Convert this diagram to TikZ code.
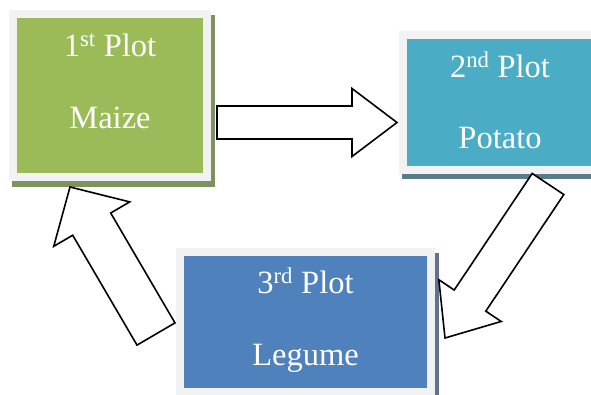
\documentclass[tikz,border=0pt]{standalone}
\usepackage{fontspec}
\setmainfont{Liberation Serif}
\usetikzlibrary{calc,positioning}

\definecolor{maizegreen}{RGB}{155,187,89}
\definecolor{potatoteal}{RGB}{75,172,198}
\definecolor{legumeblue}{RGB}{79,129,189}
\definecolor{framegray}{RGB}{242,242,242}
\definecolor{greenshade}{RGB}{126,146,96}
\definecolor{tealshade}{RGB}{90,124,136}
\definecolor{blueshade}{RGB}{98,114,142}

\tikzset{
  plotbox/.style={draw=framegray, line width=8pt, inner sep=0pt},
  plottext/.style={text=white, anchor=base, inner sep=0pt,
    font=\fontsize{32.5}{38}\selectfont},
  blockarr/.style={draw=black, fill=white, line width=1.6pt, line join=miter},
}

% tail, tip, half shaft, half head, head length
\newcommand{\blockarrow}[5]{%
  \coordinate (ah) at ($(#2)!#5!(#1)$);
  \draw[blockarr] ($(#1)!#3!90:(#2)$) -- ($(ah)!#3!90:(#2)$)
    -- ($(ah)!#4!90:(#2)$) -- (#2) -- ($(ah)!#4!-90:(#2)$)
    -- ($(ah)!#3!-90:(#2)$) -- ($(#1)!#3!-90:(#2)$) -- cycle;
}

\begin{document}
\begin{tikzpicture}[x=1pt,y=-1pt]
  \useasboundingbox (0,0) rectangle (591,394);
  \clip (0,0) rectangle (591,394);

  % shadows
  \fill[greenshade] (12,15) rectangle (214.5,187);
  \fill[tealshade] (402,35) rectangle (605,179);
  \fill[blueshade] (179,253) rectangle (438.5,400);

  % plots
  \node[plotbox, fill=maizegreen, minimum width=194pt, minimum height=163pt]
    (maize) at (110,95.5) {};
  \node[plotbox, fill=potatoteal, minimum width=194pt, minimum height=135pt]
    (potato) at (500,102.5) {};
  \node[plotbox, fill=legumeblue, minimum width=251pt, minimum height=140pt]
    (legume) at (305.5,322) {};

  \node[plottext] (maizea) at ([yshift=-46pt]maize.north) {1\textsuperscript{st} Plot};
  \node[plottext] (maizeb) at ([yshift=-118pt]maize.north) {Maize};
  \node[plottext] (potatoa) at ([yshift=-46pt]potato.north) {2\textsuperscript{nd} Plot};
  \node[plottext] (potatob) at ([yshift=-117pt]potato.north) {Potato};
  \node[plottext] (legumea) at ([yshift=-45pt]legume.north) {3\textsuperscript{rd} Plot};
  \node[plottext] (legumeb) at ([yshift=-117pt]legume.north) {Legume};

  % arrows
  \coordinate (a1s) at (217,122.5);
  \coordinate (a1e) at (397,122.5);
  \coordinate (a2s) at (548,184);
  \coordinate (a2e) at (445,338);
  \coordinate (a3s) at (156,334);
  \coordinate (a3e) at (70,187);
  \blockarrow{a1s}{a1e}{16.5pt}{34pt}{45pt}
  \blockarrow{a2s}{a2e}{19pt}{37.5pt}{45pt}
  \blockarrow{a3s}{a3e}{22pt}{44pt}{43pt}
\end{tikzpicture}
\end{document}
